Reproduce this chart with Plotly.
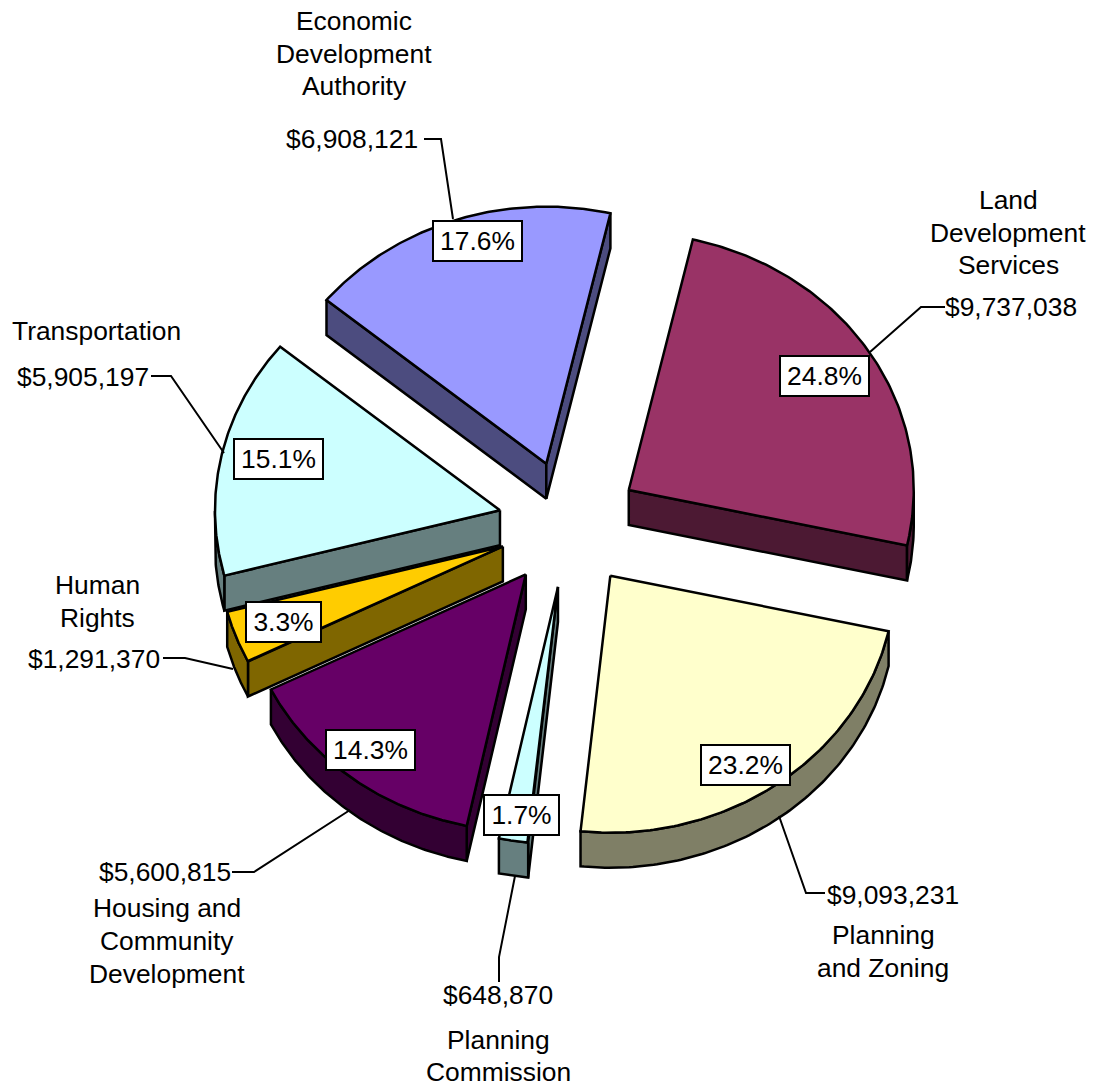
import numpy as np
import plotly.graph_objects as go

# ---- data ----
departments = ["Land Development Services", "Planning and Zoning", "Planning Commission",
               "Housing and Community Development", "Human Rights", "Transportation",
               "Economic Development Authority"]
budget = [9737038, 9093231, 648870, 5600815, 1291370, 5905197, 6908121]

# ---- styles ----
top_colors = ["#993366", "#FFFFCC", "#CCFFFF", "#660066", "#FFCC00", "#CCFFFF", "#9999FF"]
draw_order = [6, 0, 5, 4, 3, 1, 2]
FONT = "Liberation Sans, Arial, sans-serif"
FS = 26.4
CX, CY, RX, RY = 569, 524, 285, 257
START, EXPLODE, DEPTH = 13.0, 0.248, 35

pct_pos = [(824, 376), (745, 765), (521, 815), (370.5, 749.5), (283.5, 621.5), (278, 459), (477, 241)]
texts = [
    (1008, 200, "center", "Land"), (1008, 233, "center", "Development"), (1008, 265, "center", "Services"),
    (1011, 307, "center", None, 0),
    (825, 895, "left", None, 1), (883, 935, "center", "Planning"), (883, 968, "center", "and Zoning"),
    (498, 995, "center", None, 2), (498, 1040, "center", "Planning"), (498, 1072, "center", "Commission"),
    (165, 872, "center", None, 3), (167, 908, "center", "Housing and"), (167, 941, "center", "Community"),
    (167, 974, "center", "Development"),
    (97, 585, "center", "Human"), (97, 618, "center", "Rights"), (94, 659, "center", None, 4),
    (96, 331, "center", "Transportation"), (83, 377, "center", None, 5),
    (354, 21, "center", "Economic"), (354, 54, "center", "Development"), (354, 86, "center", "Authority"),
    (352, 139, "center", None, 6),
]
leaders = [
    "M 945 307 L 921 307 L 870 352",
    "M 825 893 L 806 893 L 779 816",
    "M 499 982 L 499 957 L 515 876",
    "M 232 872 L 254 872 L 350 810",
    "M 163 658 L 185 658 L 233 669",
    "M 151 376 L 171 376 L 224 453",
    "M 424 139 L 441 139 L 453 219",
]


def halve(c):
    r, g, b = int(c[1:3], 16), int(c[3:5], 16), int(c[5:7], 16)
    return f"rgb({r // 2},{g // 2},{b // 2})"


def face(fig, xs, ys, color, name):
    fig.add_trace(go.Scatter(x=xs, y=ys, mode="lines", fill="toself", fillcolor=color,
                             line=dict(color="black", width=2.5), name=name,
                             showlegend=False, hoverinfo="name"))


total = sum(budget)
edges = START + np.concatenate([[0], np.cumsum(budget)]) / total * 360

fig = go.Figure()
for i in draw_order:
    a0, a1 = edges[i], edges[i + 1]
    mid = np.radians((a0 + a1) / 2)
    ox = CX + EXPLODE * RX * np.sin(mid)
    oy = CY - EXPLODE * RY * np.cos(mid)
    t = np.radians(np.linspace(a0, a1, 120))
    ax = ox + RX * np.sin(t)
    ay = oy - RY * np.cos(t)
    dark = halve(top_colors[i])
    # radial walls: only those facing the viewer
    if a0 % 360 > 180:
        face(fig, [ox, ax[0], ax[0], ox, ox], [oy, ay[0], ay[0] + DEPTH, oy + DEPTH, oy], dark, departments[i])
    if a1 % 360 < 180:
        face(fig, [ox, ax[-1], ax[-1], ox, ox], [oy, ay[-1], ay[-1] + DEPTH, oy + DEPTH, oy], dark, departments[i])
    # outer wall: only the part on the viewer's side
    front = np.cos(t) <= 0
    if front.any():
        fx, fy = ax[front], ay[front]
        face(fig, np.r_[fx, fx[::-1], fx[0]], np.r_[fy, fy[::-1] + DEPTH, fy[0]], dark, departments[i])
    # top
    face(fig, np.r_[ox, ax, ox], np.r_[oy, ay, oy], top_colors[i], departments[i])

for path in leaders:
    fig.add_shape(type="path", path=path, line=dict(color="black", width=2), layer="above")

for i, (x, y) in enumerate(pct_pos):
    s = f"{budget[i] / total * 100:.1f}%"
    fig.add_annotation(x=x, y=y, text=s, showarrow=False,
                       width=82 if len(s) == 5 else 68, height=33, align="center", valign="middle",
                       bgcolor="white", bordercolor="black", borderwidth=2, borderpad=2.5,
                       font=dict(family=FONT, size=FS, color="black"))

for item in texts:
    s = item[3] if item[3] is not None else f"${budget[item[4]]:,}"
    fig.add_annotation(x=item[0], y=item[1], text=s, showarrow=False, xanchor=item[2], yanchor="middle",
                       font=dict(family=FONT, size=FS, color="black"))

fig.update_layout(
    width=1093, height=1087, margin=dict(l=0, r=0, t=0, b=0),
    paper_bgcolor="white", plot_bgcolor="white", showlegend=False,
    xaxis=dict(range=[0, 1093], visible=False, fixedrange=True),
    yaxis=dict(range=[1087, 0], visible=False, fixedrange=True),
)
fig.write_html("out.html", config={"displayModeBar": False},
               post_script="document.body.style.margin='0';document.body.style.overflow='hidden';")
